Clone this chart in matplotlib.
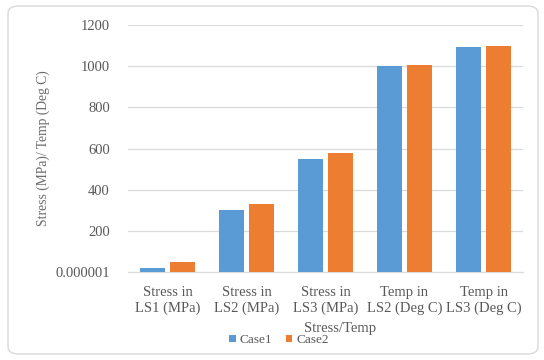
import matplotlib.pyplot as plt
import numpy as np
from matplotlib.patches import FancyBboxPatch

categories = ['Stress in\nLS1 (MPa)', 'Stress in\nLS2 (MPa)', 'Stress in\nLS3 (MPa)',
              'Temp in\nLS2 (Deg C)', 'Temp in\nLS3 (Deg C)']
case1 = [18, 302, 551, 1001, 1091]
case2 = [51, 332, 576, 1008, 1099]
yticks = [0, 200, 400, 600, 800, 1000, 1200]
ytick_labels = ['0.000001', '200', '400', '600', '800', '1000', '1200']

plt.rcParams['font.family'] = ['Liberation Serif', 'DejaVu Serif']

fig = plt.figure(figsize=(5.44, 3.6), dpi=100)
ax = fig.add_axes([128 / 544, 1 - 272 / 360, 395 / 544, 247 / 360])

# rounded chart border
border = FancyBboxPatch((8 / 544, 6 / 360), 530 / 544, 348 / 360,
                        boxstyle='round,pad=0,rounding_size=0.02',
                        transform=fig.transFigure, facecolor='white',
                        edgecolor='#d9d9d9', linewidth=1.0, zorder=-10)
fig.patches.append(border)

x = np.arange(len(categories))
w = 0.32
ax.bar(x - w / 2 - 0.03, case1, w, color='#5B9BD5', label='Case1', zorder=3)
ax.bar(x + w / 2 + 0.03, case2, w, color='#ED7D31', label='Case2', zorder=3)

ax.set_xlim(-0.5, len(categories) - 0.5)
ax.set_ylim(0, 1200)
ax.set_yticks(yticks)
ax.set_yticklabels(ytick_labels)
ax.set_xticks(x)
ax.set_xticklabels(categories)
ax.grid(axis='y', color='#d9d9d9', linewidth=0.9, zorder=0)
for s in ['top', 'right', 'left']:
    ax.spines[s].set_visible(False)
ax.spines['bottom'].set_color('#d9d9d9')
ax.tick_params(axis='y', length=0, labelsize=10.5, colors='#595959', pad=13)
ax.tick_params(axis='x', length=0, labelsize=10.5, colors='#595959', pad=10)
for t in ax.get_xticklabels():
    t.set_linespacing(1.3)

ax.set_xlabel('Stress/Temp', fontsize=10.5, color='#595959')
ax.xaxis.set_label_coords(0.537, -0.229)
ax.xaxis.label.set_va('center')
ax.set_ylabel('Stress (MPa)/ Temp (Deg C)', fontsize=9.8, color='#6b6b6b')
ax.yaxis.set_label_coords(-0.215, 0.5)
ax.yaxis.label.set_va('center')

ax.legend(loc='center', bbox_to_anchor=(0.382, -0.277), ncol=2, frameon=False,
          fontsize=9.5, labelcolor='#595959', handlelength=0.5, handleheight=0.5,
          columnspacing=1.0, handletextpad=0.3)

fig.savefig('out.png', dpi=100)
